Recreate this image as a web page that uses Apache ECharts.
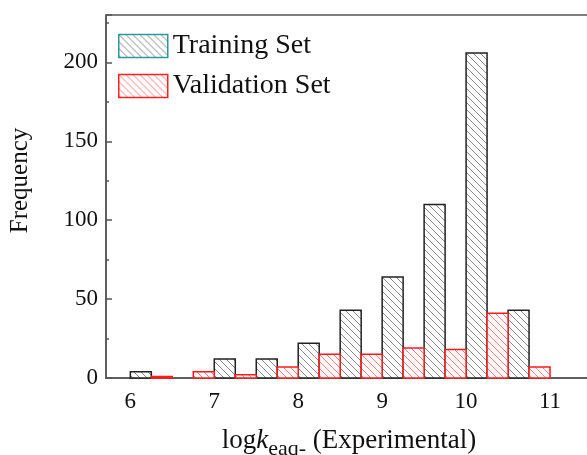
<!DOCTYPE html>
<html>
<head>
<meta charset="utf-8">
<script src="https://cdn.jsdelivr.net/npm/echarts@6/dist/echarts.min.js"></script>
<style>
  html, body { margin: 0; padding: 0; background: #fff; }
  #chart { width: 587px; height: 455px; }
</style>
</head>
<body>
<div id="chart"></div>
<script>
// histogram bins: left edge of each bar and its count
const trainStarts = [6.0, 7.0, 7.5, 8.0, 8.5, 9.0, 9.5, 10.0, 10.5];
const trainCounts = [4, 12, 12, 22, 43, 64, 110, 206, 43];
const validStarts = [6.25, 6.75, 7.25, 7.75, 8.25, 8.75, 9.25, 9.75, 10.25, 10.75];
const validCounts = [1, 4, 2, 7, 15, 15, 19, 18, 41, 7];
const binWidth = 0.25;
const seriesNames = ['Training Set', 'Validation Set'];

const FONT = '"Liberation Serif", "Times New Roman", serif';

// diagonal hatch fill
function hatch(lineColor) {
  const s = 7;
  const c = document.createElement('canvas');
  c.width = s; c.height = s;
  const ctx = c.getContext('2d');
  ctx.fillStyle = '#fff';
  ctx.fillRect(0, 0, s, s);
  ctx.strokeStyle = lineColor;
  ctx.lineWidth = 1;
  ctx.beginPath();
  ctx.moveTo(-1, -1); ctx.lineTo(s + 1, s + 1);
  ctx.moveTo(-1, s - 1); ctx.lineTo(1, s + 1);
  ctx.moveTo(s - 1, -1); ctx.lineTo(s + 1, 1);
  ctx.stroke();
  return { image: c, repeat: 'repeat' };
}

const trainFill = hatch('#8a8a8a');
const validFill = hatch('#ff8080');

function barRenderer(fill, stroke) {
  return function (params, api) {
    const x0 = api.value(0);
    const v = api.value(1);
    const p0 = api.coord([x0, v]);
    const p1 = api.coord([x0 + binWidth, 0]);
    return {
      type: 'rect',
      shape: { x: p0[0], y: p0[1], width: p1[0] - p0[0], height: p1[1] - p0[1] },
      style: { fill: fill, stroke: stroke, lineWidth: 1.5 }
    };
  };
}

const chart = echarts.init(document.getElementById('chart'));
const option = {
  backgroundColor: '#fff',
  animation: false,
  grid: {
    left: 106, top: 15, width: 486, height: 363,
    outerBoundsMode: 'none', containLabel: false,
    show: true, borderColor: '#555', borderWidth: 1.5, backgroundColor: 'transparent'
  },
  legend: {
    left: 118, top: 32, orient: 'vertical', padding: 0,
    itemWidth: 49, itemHeight: 23, itemGap: 12,
    icon: 'rect',
    textStyle: { fontFamily: FONT, fontSize: 28, color: '#111' },
    data: [
      { name: seriesNames[0], itemStyle: { color: trainFill, borderColor: '#2a9a9a', borderWidth: 1.5 } },
      { name: seriesNames[1], itemStyle: { color: validFill, borderColor: '#ff2020', borderWidth: 1.5 } }
    ]
  },
  xAxis: {
    type: 'value', min: 5.71, max: 11.5, splitNumber: 6,
    splitLine: { show: false },
    axisLine: { show: true, onZero: false, lineStyle: { color: '#555', width: 1.5 } },
    axisTick: { show: false },
    axisLabel: {
      fontFamily: FONT, fontSize: 23, color: '#111', margin: 12,
      formatter: v => Number.isInteger(v) ? String(v) : ''
    },
    name: '{n|log}{i|k}{s|eaq-}{n| (Experimental)}',
    nameLocation: 'middle', nameGap: 44,
    nameTextStyle: {
      padding: [0, 0, 0, 0],
      rich: {
        n: { fontFamily: FONT, fontSize: 27, color: '#111' },
        i: { fontFamily: FONT, fontSize: 27, fontStyle: 'italic', color: '#111' },
        s: { fontFamily: FONT, fontSize: 22, color: '#111', padding: [16, 0, 0, 0] }
      }
    }
  },
  yAxis: [{
    type: 'value', min: 0, max: 230, interval: 50,
    splitLine: { show: false },
    axisLine: { show: true, lineStyle: { color: '#555', width: 1.5 } },
    axisTick: { show: true, inside: true, length: 6, lineStyle: { color: '#555', width: 1.5 } },
    axisLabel: {
      fontFamily: FONT, fontSize: 23, color: '#111', margin: 8,
      formatter: v => (v % 50 === 0 ? String(v) : '')
    },
    name: 'Frequency', nameLocation: 'middle', nameGap: 73,
    nameTextStyle: { fontFamily: FONT, fontSize: 25, color: '#111', padding: [0, 0, 0, 32] }
  }, {
    type: 'value', min: 0, max: 230, interval: 25, position: 'left',
    splitLine: { show: false },
    axisLine: { show: false },
    axisTick: { show: true, inside: true, length: 3, lineStyle: { color: '#555', width: 1.5 } },
    axisLabel: { show: false }
  }],
  series: [{
    name: seriesNames[0], type: 'custom', yAxisIndex: 0,
    renderItem: barRenderer(trainFill, '#222'),
    encode: { x: 0, y: 1 },
    data: trainStarts.map((x, i) => [x, trainCounts[i]])
  }, {
    name: seriesNames[1], type: 'custom', yAxisIndex: 0,
    renderItem: barRenderer(validFill, '#ff1a1a'),
    encode: { x: 0, y: 1 },
    data: validStarts.map((x, i) => [x, validCounts[i]])
  }]
};
chart.setOption(option);
</script>
</body>
</html>
